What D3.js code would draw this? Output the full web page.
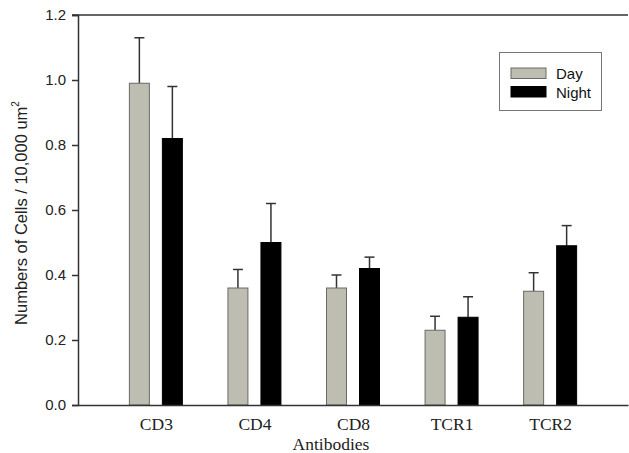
<!DOCTYPE html>
<html><head><meta charset="utf-8">
<script src="https://cdn.jsdelivr.net/npm/d3@7"></script>
<style>body{margin:0;background:#fff}svg{display:block}</style>
</head><body>
<svg id="c" width="629" height="453"></svg>
<script>
const categories = ["CD3","CD4","CD8","TCR1","TCR2"];
const seriesNames = ["Day","Night"];
const dayValues = [0.99,0.36,0.36,0.23,0.35];
const dayErrors = [0.14,0.057,0.04,0.043,0.057];
const nightValues = [0.82,0.50,0.42,0.27,0.49];
const nightErrors = [0.16,0.12,0.035,0.063,0.062];
const yTicks = [0.0,0.2,0.4,0.6,0.8,1.0,1.2];

const colors = {Day:"#bdbdb1", Night:"#000000"};
const svg = d3.select("#c");
const mLeft = 78, mRight = 628, mTop = 15, mBottom = 405;

const x = d3.scalePoint().domain(categories).range([mLeft,mRight]).padding(0.79);
const xi = d3.scaleBand().domain(seriesNames).range([-27,27]).paddingInner(0.364);
const y = d3.scaleLinear().domain([0,1.2]).range([mBottom,mTop]);

const data = [];
categories.forEach((c,i)=>{
  data.push({c, s:"Day", v:dayValues[i], e:dayErrors[i]});
  data.push({c, s:"Night", v:nightValues[i], e:nightErrors[i]});
});

// error bars
const eb = svg.append("g").attr("stroke","#333").attr("stroke-width",1.5);
data.forEach(d=>{
  const cx = x(d.c)+xi(d.s)+xi.bandwidth()/2;
  eb.append("line").attr("x1",cx).attr("x2",cx).attr("y1",y(d.v)).attr("y2",y(d.v+d.e));
  eb.append("line").attr("x1",cx-5).attr("x2",cx+5).attr("y1",y(d.v+d.e)).attr("y2",y(d.v+d.e));
});

// bars
svg.append("g").selectAll("rect").data(data).join("rect")
  .attr("x",d=>x(d.c)+xi(d.s)+0.5)
  .attr("y",d=>y(d.v))
  .attr("width",xi.bandwidth()-1)
  .attr("height",d=>mBottom-y(d.v))
  .attr("fill",d=>colors[d.s])
  .attr("stroke",d=>d.s==="Day"?"#6a6a64":"#000")
  .attr("stroke-width",1);

// y axis
const ya = svg.append("g").attr("transform",`translate(${mLeft},0)`)
  .call(d3.axisLeft(y).tickValues(yTicks).tickFormat(d3.format(".1f")).tickSizeOuter(0).tickSize(6).tickPadding(6));
ya.select(".domain").attr("stroke","#333").attr("stroke-width",1.5);
ya.selectAll(".tick line").attr("stroke","#333").attr("stroke-width",1.5);
ya.selectAll(".tick text").attr("font-family","Liberation Sans, Arial, sans-serif").attr("font-size",15).attr("fill","#222");

// x axis
const xa = svg.append("g").attr("transform",`translate(0,${mBottom})`)
  .call(d3.axisBottom(x).tickSize(0).tickPadding(13));
xa.select(".domain").attr("stroke","#333").attr("stroke-width",1.5);
xa.selectAll(".tick text").attr("font-family","Liberation Serif, Times New Roman, serif").attr("font-size",17.5).attr("fill","#222");

// top frame
svg.append("line").attr("x1",mLeft-6).attr("x2",mRight).attr("y1",mTop).attr("y2",mTop).attr("stroke","#333").attr("stroke-width",1.5);

// axis titles
svg.append("text").attr("x",331).attr("y",450).attr("text-anchor","middle")
  .attr("font-family","Liberation Serif, Times New Roman, serif").attr("font-size",17.5).attr("fill","#222").text("Antibodies");
const yt = svg.append("text").attr("transform","translate(27,213) rotate(-90)").attr("text-anchor","middle")
  .attr("font-family","Liberation Sans, Arial, sans-serif").attr("font-size",16.5).attr("fill","#222");
yt.append("tspan").text("Numbers of Cells / 10,000 um");
yt.append("tspan").attr("font-size",10).attr("dy",-8).text("2");

// legend
const lg = svg.append("g");
lg.append("rect").attr("x",499.5).attr("y",52.5).attr("width",102).attr("height",58).attr("fill","#fff").attr("stroke","#777").attr("stroke-width",1);
seriesNames.forEach((s,i)=>{
  lg.append("rect").attr("x",511).attr("y",68+i*18.5).attr("width",35).attr("height",10.5)
    .attr("fill",colors[s]).attr("stroke",s==="Day"?"#6a6a64":"#000");
  lg.append("text").attr("x",556).attr("y",79+i*18.5).attr("font-family","Liberation Sans, Arial, sans-serif")
    .attr("font-size",15).attr("fill","#111").text(s);
});
</script>
</body></html>
